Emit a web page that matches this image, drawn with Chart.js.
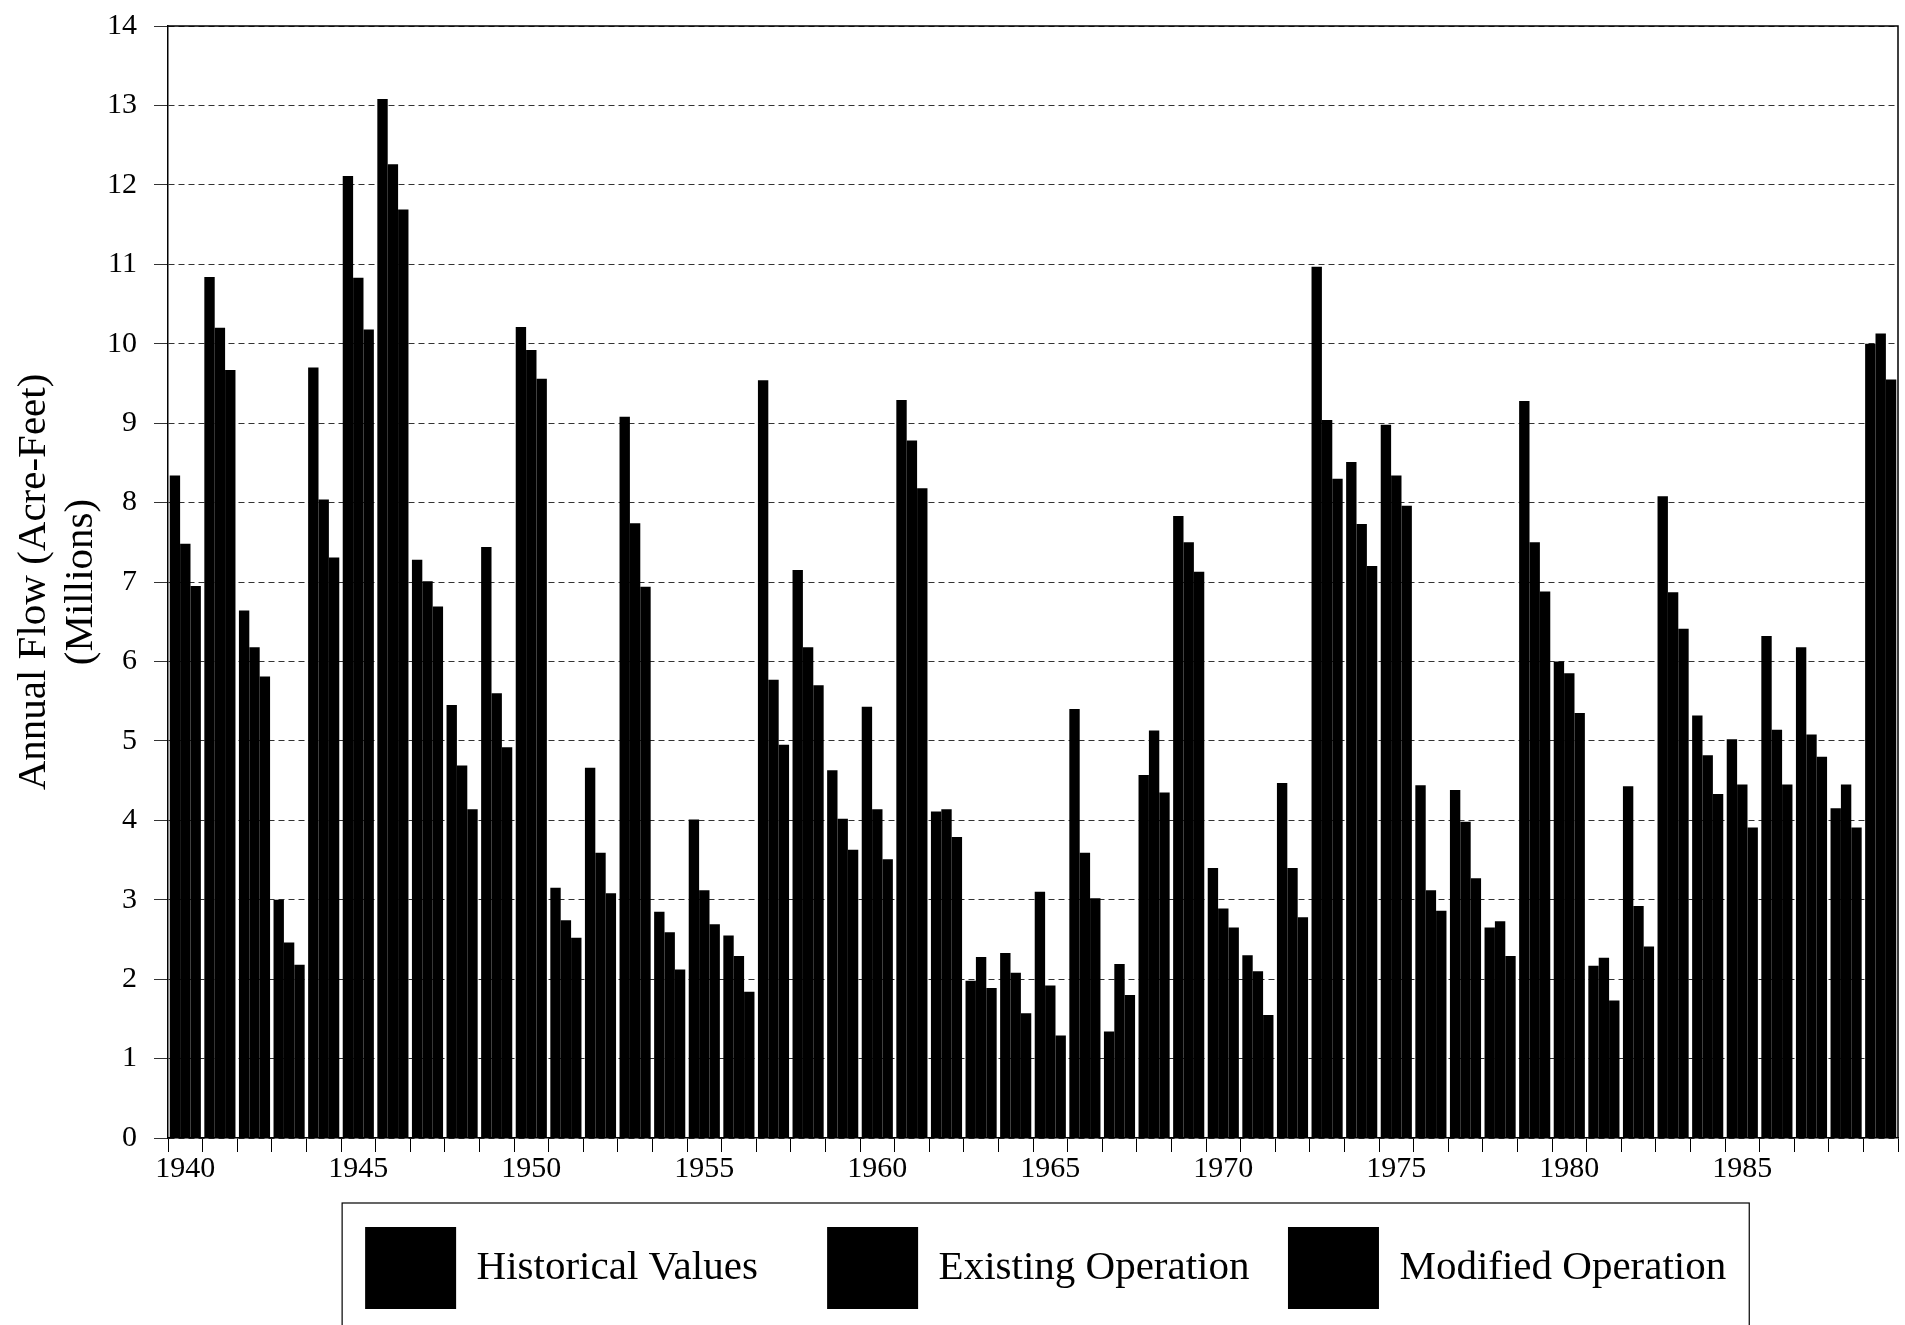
<!DOCTYPE html>
<html>
<head>
<meta charset="utf-8">
<script src="https://cdn.jsdelivr.net/npm/chart.js@4/dist/chart.umd.min.js"></script>
<style>
  html, body { margin: 0; padding: 0; background: #fff; overflow: hidden; }
  #wrap { position: relative; width: 1905px; height: 1325px; }
</style>
</head>
<body>
<div id="wrap"><canvas id="flowChart"></canvas></div>
<script>
const years = ['1940','1941','1942','1943','1944','1945','1946','1947','1948','1949',
  '1950','1951','1952','1953','1954','1955','1956','1957','1958','1959',
  '1960','1961','1962','1963','1964','1965','1966','1967','1968','1969',
  '1970','1971','1972','1973','1974','1975','1976','1977','1978','1979',
  '1980','1981','1982','1983','1984','1985','1986','1987','1988','1989'];

// annual flow, millions of acre-feet
const historical = [8.34, 10.84, 6.64, 3.00, 9.70, 12.11, 13.08, 7.28, 5.45, 7.44,
  10.21, 3.15, 4.66, 9.08, 2.85, 4.01, 2.55, 9.54, 7.15, 4.63,
  5.43, 9.29, 4.11, 1.98, 2.33, 3.10, 5.40, 1.34, 4.57, 7.83,
  3.40, 2.30, 4.47, 10.97, 8.51, 8.98, 4.44, 4.38, 2.65, 9.28,
  6.00, 2.17, 4.43, 8.08, 5.32, 5.02, 6.32, 6.18, 4.15, 10.00];
const existing = [7.48, 10.20, 6.18, 2.46, 8.04, 10.83, 12.26, 7.01, 4.69, 5.60,
  9.92, 2.74, 3.59, 7.74, 2.59, 3.12, 2.29, 5.77, 6.18, 4.02,
  4.14, 8.78, 4.14, 2.28, 2.08, 1.92, 3.59, 2.19, 5.13, 7.50,
  2.89, 2.10, 3.40, 9.04, 7.73, 8.34, 3.12, 3.98, 2.73, 7.50,
  5.85, 2.27, 2.92, 6.87, 4.82, 4.45, 5.14, 5.08, 4.45, 10.13];
const modified = [6.95, 9.67, 5.81, 2.18, 7.31, 10.18, 11.69, 6.69, 4.14, 4.92,
  9.56, 2.52, 3.08, 6.94, 2.12, 2.69, 1.84, 4.95, 5.70, 3.63,
  3.51, 8.18, 3.79, 1.89, 1.57, 1.29, 3.02, 1.80, 4.35, 7.13,
  2.65, 1.55, 2.78, 8.30, 7.20, 7.96, 2.86, 3.27, 2.29, 6.88,
  5.35, 1.73, 2.41, 6.41, 4.33, 3.91, 4.45, 4.80, 3.91, 9.55];

const seriesNames = ['Historical Values', 'Existing Operation', 'Modified Operation'];
// trailing blanks so the legend entries sit in even columns like the original
const legendPad = [3, 0, 13];

const serif = "'Liberation Serif', 'Times New Roman', serif";
const legendFontSize = 41;

// frame round the plot and the legend
const framePlugin = {
  id: 'frames',
  afterDraw(chart) {
    const ctx = chart.ctx;
    const a = chart.chartArea;
    ctx.save();
    ctx.strokeStyle = '#000';
    ctx.lineWidth = 1.5;
    ctx.beginPath();
    ctx.moveTo(a.left, a.top);
    ctx.lineTo(a.right, a.top);
    ctx.lineTo(a.right, a.bottom);
    ctx.stroke();
    const boxes = chart.legend.legendHitBoxes;
    if (boxes && boxes.length) {
      const first = boxes[0], last = boxes[boxes.length - 1];
      ctx.font = legendFontSize + "px " + serif;
      const lastText = ctx.measureText(seriesNames[seriesNames.length - 1]).width;
      const x0 = first.left - 23;
      const x1 = last.left + 91 + legendFontSize / 2 + lastText + 23;
      const y0 = first.top - 24;
      ctx.lineWidth = 1.2;
      ctx.strokeRect(x0, y0, x1 - x0, 300);
    }
    ctx.restore();
  }
};

Chart.defaults.font.family = serif;
Chart.defaults.color = '#000';

new Chart(document.getElementById('flowChart'), {
  type: 'bar',
  data: {
    labels: years,
    datasets: [
      { label: seriesNames[0], data: historical, backgroundColor: '#000' },
      { label: seriesNames[1], data: existing, backgroundColor: '#000' },
      { label: seriesNames[2], data: modified, backgroundColor: '#000' }
    ]
  },
  options: {
    responsive: true,
    maintainAspectRatio: false,
    animation: false,
    categoryPercentage: 0.9,
    barPercentage: 1.0,
    layout: { padding: { top: 26, right: 7, bottom: 6, left: 0 } },
    plugins: {
      tooltip: { enabled: false },
      legend: {
        position: 'bottom',
        fullSize: false,
        align: 'end',
        labels: {
          boxWidth: 91,
          boxHeight: 82,
          padding: 38.5,
          color: '#000',
          font: { family: serif, size: legendFontSize },
          generateLabels(chart) {
            const items = Chart.defaults.plugins.legend.labels.generateLabels(chart);
            items.forEach((it, i) => { it.text = it.text + ' '.repeat(legendPad[i]); });
            return items;
          }
        }
      }
    },
    scales: {
      x: {
        offset: true,
        grid: {
          offset: true,
          drawOnChartArea: false,
          drawTicks: true,
          tickLength: 14,
          tickColor: '#000',
          tickWidth: 1
        },
        border: { display: true, color: '#000', width: 1.5 },
        ticks: {
          autoSkip: false,
          maxRotation: 0,
          minRotation: 0,
          padding: -1,
          color: '#000',
          font: { family: serif, size: 30 },
          callback: function (value, index) {
            const y = years[index];
            return Number(y) % 5 === 0 ? y : '';
          }
        },
        afterFit(scale) { scale.height = 50.5; }
      },
      y: {
        min: 0,
        max: 14,
        grid: {
          color: '#333',
          lineWidth: 1,
          tickLength: 14,
          tickColor: '#333'
        },
        border: { display: true, color: '#000', width: 1.5, dash: [6, 4] },
        ticks: {
          stepSize: 1,
          padding: 17,
          color: '#000',
          font: { family: serif, size: 30, lineHeight: 0.6 }
        },
        title: {
          display: true,
          text: ['Annual Flow (Acre-Feet)', '(Millions)'],
          color: '#000',
          font: { family: serif, size: 41, lineHeight: 1.15 },
          padding: { top: 11, bottom: 0 }
        },
        afterFit(scale) { scale.width = 168; }
      }
    }
  },
  plugins: [framePlugin]
});
</script>
</body>
</html>
